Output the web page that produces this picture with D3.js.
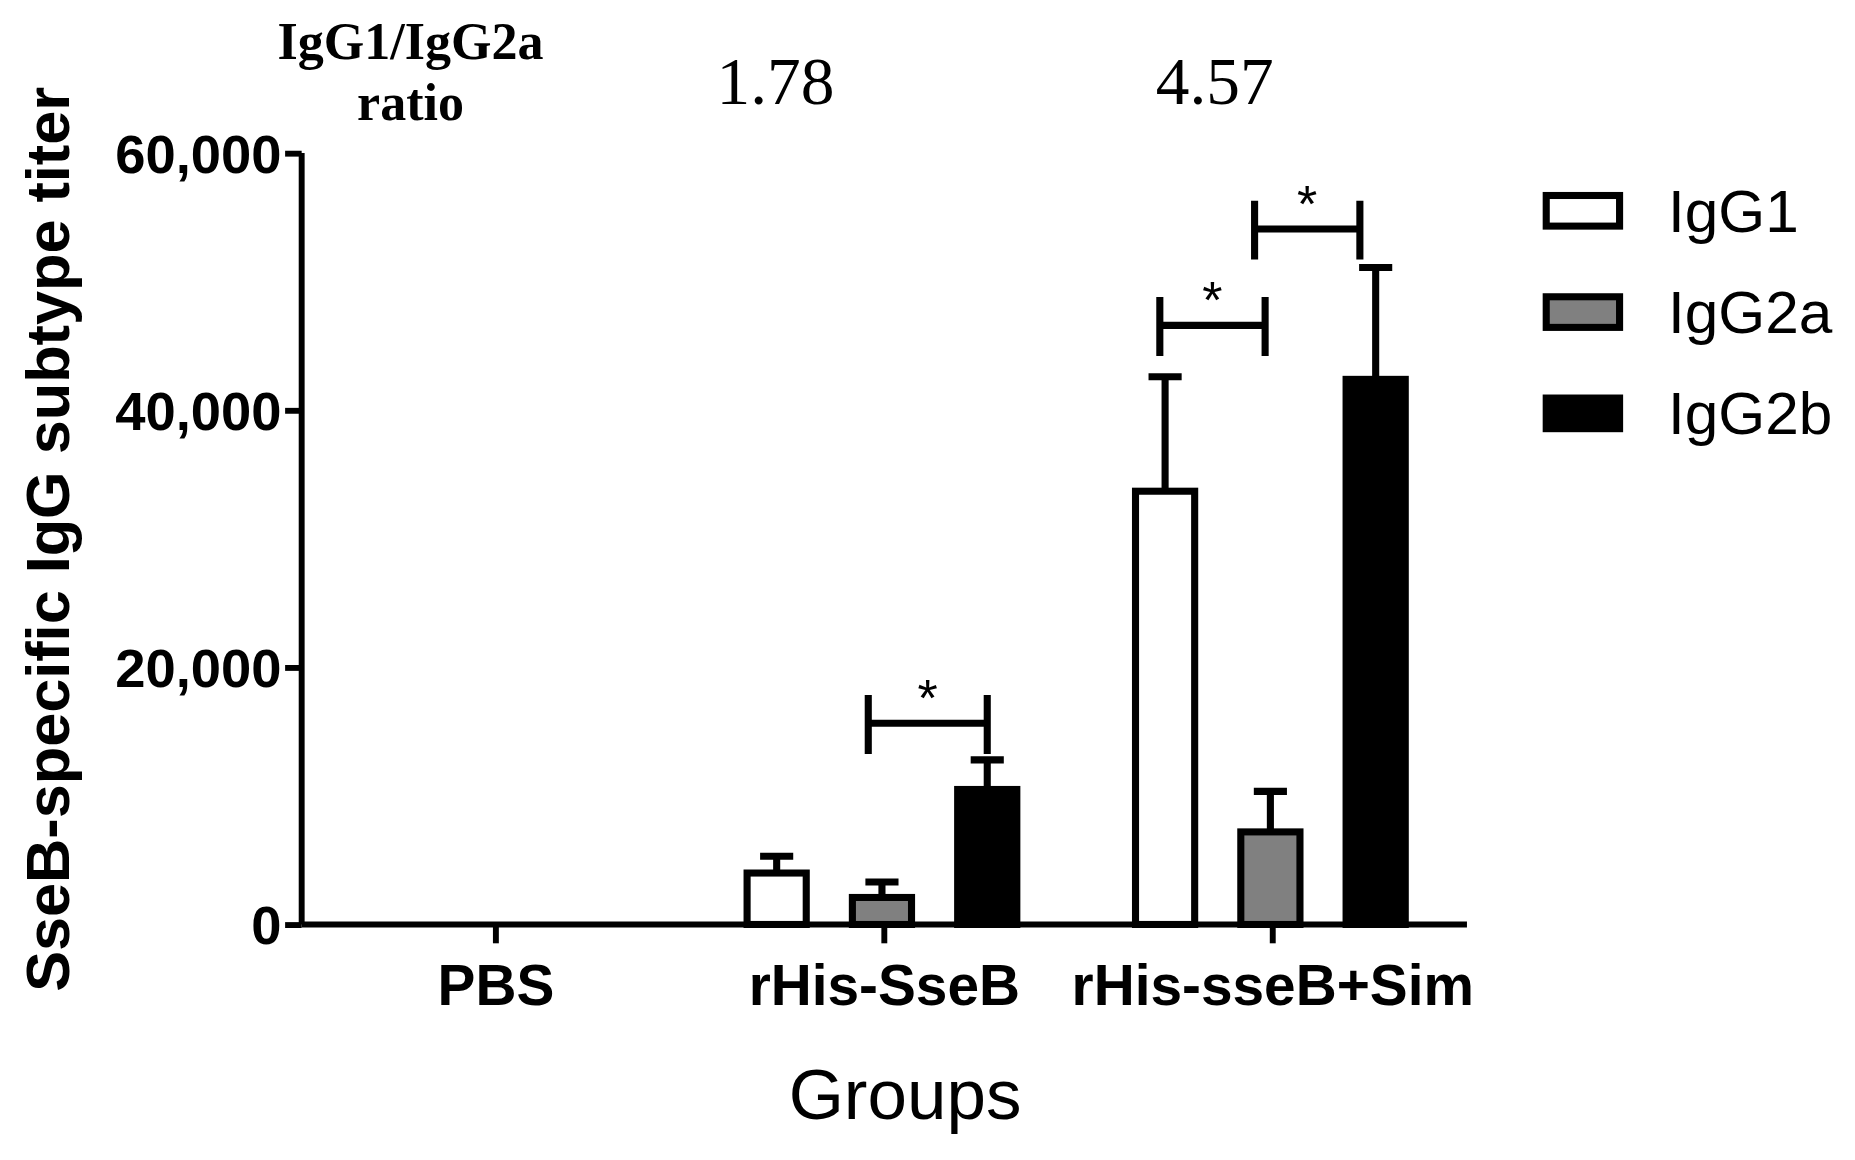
<!DOCTYPE html>
<html><head><meta charset="utf-8">
<script src="https://cdn.jsdelivr.net/npm/d3@7"></script>
<style>body{margin:0;background:#fff}</style></head>
<body><svg id="chart"></svg>
<script>
const groups = ['PBS', 'rHis-SseB', 'rHis-sseB+Sim'];
const series = ['IgG1', 'IgG2a', 'IgG2b'];
const colors = ['#ffffff', '#808080', '#000000'];
const means = [[0, 0, 0], [4000, 2100, 10500], [33700, 7200, 42400]];
const errors = [[0, 0, 0], [1300, 1200, 2300], [8900, 3150, 8700]];
const ratios = ['', '1.78', '4.57'];
const yTicks = [0, 20000, 40000, 60000];
// significance brackets: group, from series, to series, value
const sig = [[1, 0.87, 2.0, 15650], [2, -0.05, 0.95, 46600], [2, 0.85, 1.85, 54100]];

const svg = d3.select('#chart').attr('width', 1855).attr('height', 1160)
  .attr('viewBox', '0 0 1568 985').attr('preserveAspectRatio', 'none');

const x = d3.scaleBand().domain(groups).range([255, 1240]).padding(0);
const y = d3.scaleLinear().domain([0, 60000]).range([785, 130]);
const off = d => (d - 1) * 89 - 2;
const bw = 50;

const yAxis = svg.append('g').attr('transform', 'translate(255,0)')
  .call(d3.axisLeft(y).tickValues(yTicks).tickSize(14).tickFormat(d3.format(',')));
yAxis.select('.domain').attr('stroke-width', 5).attr('d', 'M0,785V130');
yAxis.selectAll('line').attr('stroke-width', 5);
yAxis.selectAll('text').attr('font-family', 'Arial, Liberation Sans').attr('font-weight', 'bold')
  .attr('font-size', 46).attr('dx', 0).attr('dy', '0.35em');

const xAxis = svg.append('g').attr('transform', 'translate(0,785)')
  .call(d3.axisBottom(x).tickSize(16).tickPadding(18));
xAxis.select('.domain').attr('stroke-width', 5).attr('d', 'M255,0H1240');
xAxis.selectAll('line').attr('stroke-width', 5);
xAxis.selectAll('text').attr('font-family', 'Arial, Liberation Sans').attr('font-weight', 'bold')
  .attr('font-size', 48);

const cx = (g, s) => x(groups[g]) + x.bandwidth() / 2 + off(s);

means.forEach((row, g) => row.forEach((v, s) => {
  if (v <= 0) return;
  const e = v + errors[g][s];
  svg.append('line').attr('x1', cx(g, s)).attr('x2', cx(g, s)).attr('y1', y(v)).attr('y2', y(e))
    .attr('stroke', '#000').attr('stroke-width', 6);
  svg.append('line').attr('x1', cx(g, s) - 14).attr('x2', cx(g, s) + 14).attr('y1', y(e)).attr('y2', y(e))
    .attr('stroke', '#000').attr('stroke-width', 6);
  svg.append('rect').attr('x', cx(g, s) - bw / 2).attr('width', bw).attr('y', y(v)).attr('height', y(0) - y(v))
    .attr('fill', colors[s]).attr('stroke', '#000').attr('stroke-width', 6);
}));

sig.forEach(([g, a, b, v]) => {
  const x1 = cx(g, 0) + a * 89, x2 = cx(g, 0) + b * 89, yy = y(v);
  svg.append('path').attr('d', `M${x1},${yy - 24}V${yy + 26}M${x1},${yy}H${x2}M${x2},${yy - 24}V${yy + 26}`)
    .attr('stroke', '#000').attr('stroke-width', 6).attr('fill', 'none');
  svg.append('text').attr('x', (x1 + x2) / 2).attr('y', yy - 6).attr('text-anchor', 'middle')
    .attr('font-family', 'Arial').attr('font-size', 44).text('*');
});

const ratioShift = [0, -92, -49];
ratios.forEach((r, g) => {
  if (!r) return;
  svg.append('text').attr('x', x(groups[g]) + x.bandwidth() / 2 + ratioShift[g]).attr('y', 88).attr('text-anchor', 'middle')
    .attr('font-family', 'Liberation Serif, Times New Roman').attr('font-size', 57).text(r);
});
svg.append('text').attr('x', 347).attr('y', 50).attr('text-anchor', 'middle')
  .attr('font-family', 'Liberation Serif').attr('font-weight', 'bold').attr('font-size', 44).text('IgG1/IgG2a');
svg.append('text').attr('x', 347).attr('y', 102).attr('text-anchor', 'middle')
  .attr('font-family', 'Liberation Serif').attr('font-weight', 'bold').attr('font-size', 44).text('ratio');

const leg = svg.append('g').attr('transform', 'translate(1305,163)');
series.forEach((s, i) => {
  leg.append('rect').attr('x', 2).attr('y', i * 86 + 3).attr('width', 62).attr('height', 26)
    .attr('fill', colors[i]).attr('stroke', '#000').attr('stroke-width', 6);
  leg.append('text').attr('x', 105).attr('y', i * 86 + 16).attr('dy', '0.35em')
    .attr('font-family', 'Arial, Liberation Sans').attr('font-size', 51).text(s);
});

svg.append('text').attr('transform', 'translate(58,458) rotate(-90)').attr('text-anchor', 'middle')
  .attr('font-family', 'Arial, Liberation Sans').attr('font-weight', 'bold').attr('font-size', 52)
  .text('SseB-specific IgG subtype titer');
svg.append('text').attr('x', 765).attr('y', 950).attr('text-anchor', 'middle')
  .attr('font-family', 'Arial, Liberation Sans').attr('font-size', 60).text('Groups');
</script></body></html>
